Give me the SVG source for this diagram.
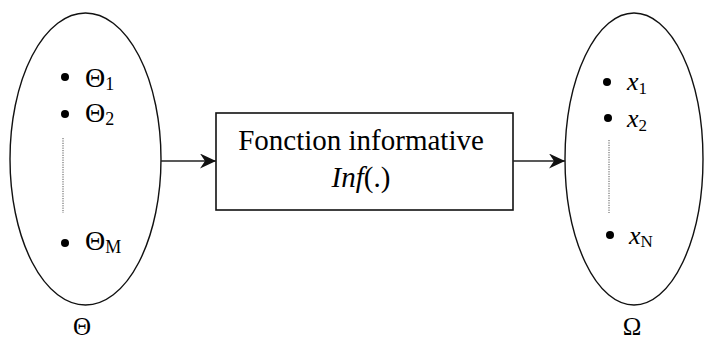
<svg xmlns="http://www.w3.org/2000/svg" width="704" height="342" viewBox="0 0 704 342" font-family="'Liberation Serif', 'Times New Roman', serif">
<style>
.t{font-family:'Liberation Serif','Times New Roman',serif;fill:#000}
.big{font-size:28px}
.lab{font-size:25px}
.sub{font-size:18px}
.xv{font-size:26px;font-style:italic}
.xs{font-size:17px;font-style:normal}
.ell{fill:none;stroke:#111;stroke-width:1.4}
.dot{fill:#000}
.dash{stroke:#555;stroke-width:1;stroke-dasharray:1.2,1.2}
.conn{stroke:#222;stroke-width:1.6;fill:none}
</style>
<defs>
<marker id="ah" markerUnits="userSpaceOnUse" markerWidth="16" markerHeight="16" refX="16" refY="7.5" orient="auto">
<path d="M0,0 L16,7.5 L0,15 L5,7.5 z" fill="#111"/>
</marker>
</defs>
<rect width="704" height="342" fill="#fff"/>
<g id="theta-set">
<ellipse class="ell" cx="85.5" cy="159" rx="75.5" ry="146"/>
<circle class="dot" cx="65" cy="77" r="4"/>
<text class="t big" x="85" y="87">Θ<tspan class="sub" dy="3">1</tspan></text>
<circle class="dot" cx="65" cy="114" r="4"/>
<text class="t big" x="85" y="122">Θ<tspan class="sub" dy="3">2</tspan></text>
<line class="dash" x1="63" y1="138" x2="63" y2="213"/>
<circle class="dot" cx="65" cy="243" r="4"/>
<text class="t big" x="85" y="250">Θ<tspan class="sub" dy="3">M</tspan></text>
<text class="t lab" x="82" y="335" text-anchor="middle">Θ</text>
</g>
<g id="function-box">
<rect x="216" y="113" width="297" height="97" fill="#fff" stroke="#111" stroke-width="1.6"/>
<text class="t" x="361" y="150" text-anchor="middle" font-size="29">Fonction informative</text>
<text class="t" x="361" y="187" text-anchor="middle" font-size="29" font-style="italic">Inf<tspan font-style="normal">(.)</tspan></text>
</g>
<g id="omega-set">
<ellipse class="ell" cx="634" cy="159" rx="69" ry="146"/>
<circle class="dot" cx="607" cy="82" r="4"/>
<text class="t xv" x="627" y="90">x<tspan class="xs" dy="4">1</tspan></text>
<circle class="dot" cx="608" cy="118" r="4"/>
<text class="t xv" x="627" y="127">x<tspan class="xs" dy="4">2</tspan></text>
<line class="dash" x1="609" y1="140" x2="609" y2="213"/>
<circle class="dot" cx="610" cy="235" r="4"/>
<text class="t xv" x="629" y="244">x<tspan class="xs" dy="3">N</tspan></text>
<text class="t lab" x="632" y="335" text-anchor="middle">Ω</text>
</g>
<g id="connectors">
<line class="conn" x1="161" y1="161" x2="216" y2="161" marker-end="url(#ah)"/>
<line class="conn" x1="513" y1="161" x2="565" y2="161" marker-end="url(#ah)"/>
</g>
</svg>
